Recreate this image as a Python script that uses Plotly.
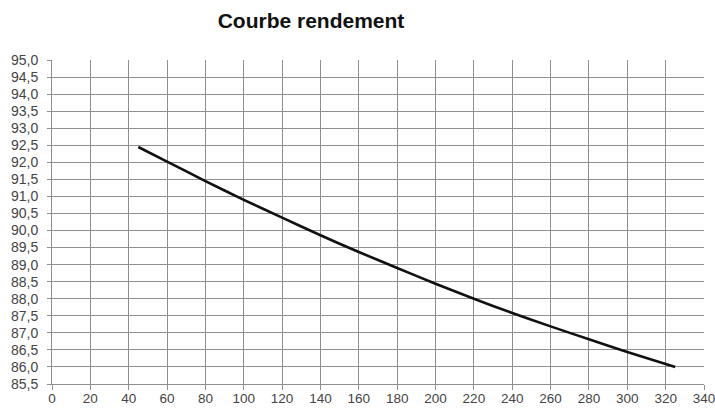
import plotly.graph_objects as go

# Data
puissance = [45, 60, 80, 100, 120, 140, 160, 180, 200, 220, 240, 260, 280, 300, 325]
rendement = [92.45, 92.02, 91.45, 90.90, 90.38, 89.86, 89.37, 88.90, 88.44, 88.00,
             87.58, 87.19, 86.81, 86.44, 86.00]

x_ticks = list(range(0, 341, 20))
y_ticks = [85.5 + 0.5 * i for i in range(20)]
y_ticktext = [f"{v:.1f}".replace(".", ",") for v in y_ticks]

W, H = 715, 412

fig = go.Figure()
fig.add_trace(go.Scatter(
    x=puissance, y=rendement, mode="lines",
    line=dict(color="#111111", width=2.6, shape="spline", smoothing=0.6),
    showlegend=False, hoverinfo="skip",
))

grid = "#8f8f8f"
fig.update_layout(
    width=W, height=H,
    paper_bgcolor="white", plot_bgcolor="white",
    margin=dict(l=52, r=11, t=60, b=28, autoexpand=False),
    title=dict(text="<b>Courbe rendement</b>", x=311 / W, xref="container", xanchor="center",
               y=1 - 21 / H, yanchor="middle",
               font=dict(family="Liberation Sans, Arial, sans-serif", size=21, color="#111111")),
    font=dict(family="Liberation Sans, Arial, sans-serif", size=14, color="#444444"),
    xaxis=dict(range=[0, 340], tickvals=x_ticks, ticktext=[str(v) for v in x_ticks],
               tickfont=dict(size=13.5),
               showgrid=True, gridcolor=grid, gridwidth=1, zeroline=False,
               showline=True, linecolor=grid, linewidth=1, mirror=False, automargin=False,
               ticks="outside", ticklen=5, tickcolor=grid, ticklabelstandoff=-3,
               ticklabeloverflow="allow", fixedrange=True),
    yaxis=dict(range=[85.5, 95.0], tickvals=y_ticks, ticktext=y_ticktext,
               showgrid=True, gridcolor=grid, gridwidth=1, zeroline=False,
               showline=True, linecolor=grid, linewidth=1, automargin=False,
               ticks="outside", ticklen=4, tickcolor=grid, ticklabelstandoff=6, fixedrange=True),
)

fig.write_html(
    "out.html",
    config={"displayModeBar": False, "staticPlot": True},
    post_script="document.body.style.margin='0';document.body.style.overflow='hidden';",
)
